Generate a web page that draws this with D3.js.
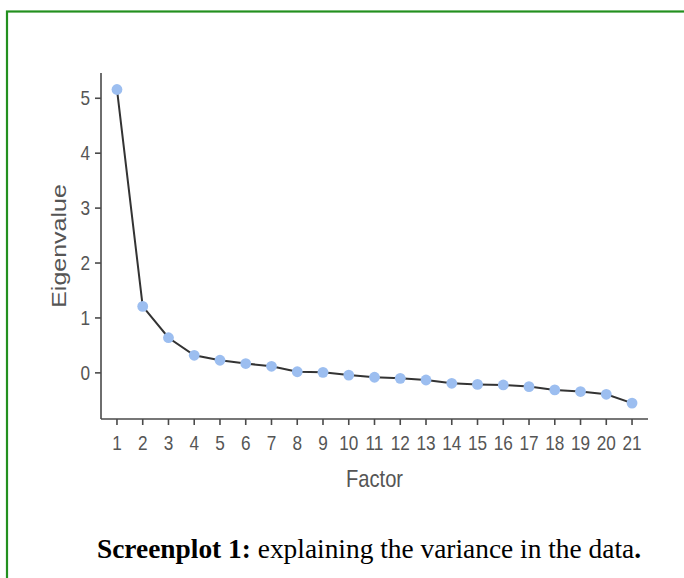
<!DOCTYPE html>
<html>
<head>
<meta charset="utf-8">
<script src="https://cdn.jsdelivr.net/npm/d3@7"></script>
<style>
  html, body { margin: 0; padding: 0; background: #fff; }
  svg { display: block; }
</style>
</head>
<body>
<svg id="chart" width="684" height="578"></svg>
<script>
// ---- data ----
const factors = [1,2,3,4,5,6,7,8,9,10,11,12,13,14,15,16,17,18,19,20,21];
const eigenvalues = [5.16,1.21,0.64,0.32,0.23,0.17,0.12,0.02,0.01,-0.04,-0.08,-0.10,-0.13,-0.19,-0.21,-0.22,-0.25,-0.31,-0.34,-0.39,-0.55];
const yTicks = [0,1,2,3,4,5];
const xLabel = "Factor";
const yLabel = "Eigenvalue";
const captionBold = "Screenplot 1:";
const captionRest = " explaining the variance in the data";

const svg = d3.select("#chart");

// frame
svg.append("rect")
  .attr("x", 7).attr("y", 11.5).attr("width", 700).attr("height", 600)
  .attr("fill", "none").attr("stroke", "#23901f").attr("stroke-width", 2.2);

const pLeft = 101, pRight = 648, pTop = 73, pBottom = 419;

const x = d3.scalePoint().domain(factors).range([pLeft, pRight]).padding(0.62);
const y = d3.scaleLinear().domain([-0.84, 5.46]).range([pBottom, pTop]);

const axisColor = "#4a4a4a";
const textColor = "#555";
const sx = 0.86;

// x axis
const xg = svg.append("g").attr("transform", `translate(0,${pBottom})`);
xg.append("line").attr("x1", pLeft).attr("x2", pRight).attr("stroke", axisColor).attr("stroke-width", 1.6);
xg.selectAll("line.tick").data(factors).join("line")
  .attr("class", "tick")
  .attr("x1", d => x(d)).attr("x2", d => x(d)).attr("y1", 0).attr("y2", 6)
  .attr("stroke", axisColor).attr("stroke-width", 1.6);
xg.selectAll("text").data(factors).join("text")
  .attr("transform", d => `translate(${x(d)},${31}) scale(${sx},1)`)
  .attr("text-anchor", "middle")
  .attr("font-family", "Liberation Sans, Arial, sans-serif")
  .attr("font-size", 20).attr("fill", textColor)
  .text(d => d);

// y axis
const yg = svg.append("g").attr("transform", `translate(${pLeft},0)`);
yg.append("line").attr("y1", pTop).attr("y2", pBottom).attr("stroke", axisColor).attr("stroke-width", 1.6);
yg.selectAll("line.tick").data(yTicks).join("line")
  .attr("class", "tick")
  .attr("x1", -6).attr("x2", 0).attr("y1", d => y(d)).attr("y2", d => y(d))
  .attr("stroke", axisColor).attr("stroke-width", 1.6);
yg.selectAll("text").data(yTicks).join("text")
  .attr("transform", d => `translate(-11,${y(d) + 7}) scale(${sx},1)`)
  .attr("text-anchor", "end")
  .attr("font-family", "Liberation Sans, Arial, sans-serif")
  .attr("font-size", 20).attr("fill", textColor)
  .text(d => d);

// axis titles
svg.append("text")
  .attr("transform", `translate(${(pLeft + pRight) / 2},487) scale(0.84,1)`)
  .attr("text-anchor", "middle")
  .attr("font-family", "Liberation Sans, Arial, sans-serif")
  .attr("font-size", 24).attr("fill", textColor)
  .text(xLabel);
svg.append("text")
  .attr("transform", `translate(66,${(pTop + pBottom) / 2}) scale(0.84,1) rotate(-90)`)
  .attr("text-anchor", "middle")
  .attr("font-family", "Liberation Sans, Arial, sans-serif")
  .attr("font-size", 25).attr("fill", textColor)
  .text(yLabel);

// line
const line = d3.line().x((d, i) => x(factors[i])).y(d => y(d));
svg.append("path").datum(eigenvalues)
  .attr("d", line).attr("fill", "none")
  .attr("stroke", "#333").attr("stroke-width", 2);

// points
svg.selectAll("circle").data(eigenvalues).join("circle")
  .attr("cx", (d, i) => x(factors[i])).attr("cy", d => y(d))
  .attr("r", 5.4).attr("fill", "#9cbef0");

// caption
const cap = svg.append("text")
  .attr("x", 369).attr("y", 558)
  .attr("text-anchor", "middle")
  .attr("font-family", "Liberation Serif, 'Times New Roman', serif")
  .attr("font-size", 27.4).attr("fill", "#000");
cap.append("tspan").attr("font-weight", "bold").text(captionBold);
cap.append("tspan").text(captionRest);
cap.append("tspan").attr("font-weight", "bold").text(".");
</script>
</body>
</html>
